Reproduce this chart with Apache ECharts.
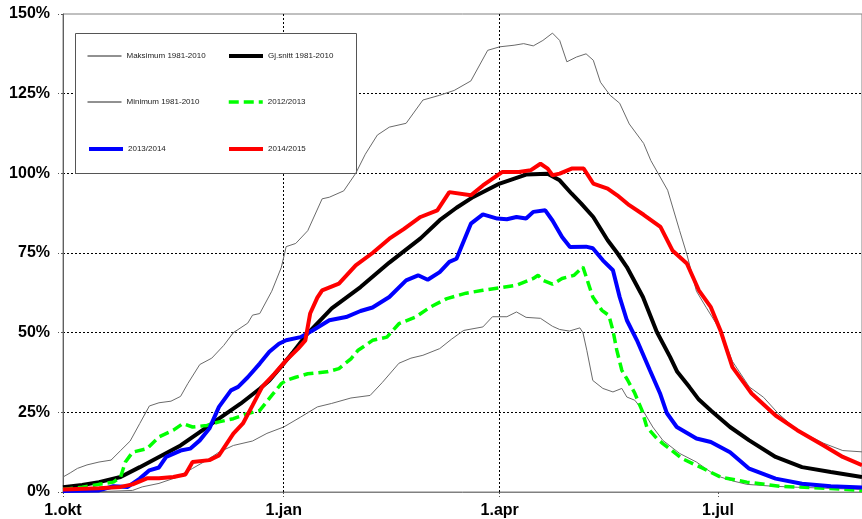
<!DOCTYPE html>
<html>
<head>
<meta charset="utf-8">
<script src="https://cdn.jsdelivr.net/npm/echarts@6/dist/echarts.min.js"></script>
<style>
html,body{margin:0;padding:0;background:#fff;}
#chart{width:862px;height:519px;}
</style>
</head>
<body>
<div id="chart"></div>
<script>
// x values are days since 1 October
const tickDays = [0, 92, 182, 273];
const tickLabels = ['1.okt', '1.jan', '1.apr', '1.jul'];
const seriesNames = ['Maksimum 1981-2010', 'Minimum 1981-2010', 'Gj.snitt 1981-2010', '2012/2013', '2013/2014', '2014/2015'];

const maxData = [[0,4.7],[3,6],[6,7.4],[10,8.5],[15,9.4],[20,10],[24,13],[28,16],[32,21.5],[36,27],[40,28],[45,28.5],[49,30],[52,34],[57,40],[62,42],[67,46],[71,50],[77,53],[79,55.5],[82,56],[87,63],[91,70.5],[93,77],[97,78],[102,82],[108,92],[111,92.5],[117,94.5],[122,100],[126,106],[131,112],[136,114.5],[143,115.7],[150,123],[157,124.5],[163,126],[170,129],[177,138.6],[182,139.7],[188,140.2],[192,140.7],[196,140],[200,141.7],[204,144],[207,141.7],[210,135],[214,136.5],[218,137.5],[221,135.5],[224,128.6],[228,124.5],[232,122],[236,115.5],[242,109.4],[245,104],[252,94.7],[257,82],[260,74.6],[264,63],[268,58],[274,50.7],[279,41],[286,33],[292,29.7],[298,24.7],[306,19.4],[317,15.3],[325,13],[333,12.6]];

const minData = [[0,0],[15,0.1],[29,0.5],[33,1.6],[40,2.7],[47,4.5],[54,7.4],[60,10],[65,12.5],[71,14.6],[79,16],[85,18.4],[92,20.4],[99,23.5],[106,26.7],[112,27.8],[120,29.5],[128,30.3],[133,34.3],[140,40.4],[145,42],[150,42.9],[157,45],[162,48],[167,50.7],[175,51.8],[179,55],[185,55],[189,56.5],[193,54.8],[199,54.5],[204,52],[207,51],[211,50.5],[215.4,51.5],[216.7,50],[218.3,44.5],[220.8,35],[225,32.5],[229.2,31.4],[232.9,32.5],[235,29.8],[238.3,28.8],[241.7,25.6],[245.8,20.4],[250,16.2],[257,12.1],[264,9.4],[272,5.2],[279,3.5],[285,2.4],[296,1.8],[306,1.5],[333,0.8]];

const avgData = [[0,1.5],[8,2.2],[15,3.1],[24,4.7],[32,7.8],[40,11],[49,14.6],[57,18.8],[65,23],[74,27.7],[82,32.4],[86,35],[90,38.5],[96,44],[102,49.8],[112,57.6],[124,64.3],[136,72],[149,79.6],[157,85.3],[164,89.2],[171,92.6],[182,96.8],[193,99.6],[202,99.9],[207,97.8],[212,93.6],[216,90.5],[221,86.3],[227,79],[231,75],[235,70.6],[241.7,61.2],[247.5,50.2],[253,42.4],[256,37.7],[261,33],[265,29],[270,25.6],[278,20.4],[286,16.2],[297,11],[308,7.8],[320,6.3],[333,4.7]];

const green1213 = [[0,0.8],[8,1.5],[15,2.4],[21,3.1],[24,4.7],[26,9.4],[29,12.5],[35,13.6],[40,17.3],[46,19.4],[50,21.5],[54,20.4],[60,20.9],[65,22],[71,23],[77,24.6],[82,25.6],[87,30.3],[91,34],[93,35],[97,36],[102,37.1],[110,37.7],[115,38.7],[120,41.8],[123,44.5],[126,46],[129,47.6],[135,48.6],[140,52.8],[147,54.9],[153,58],[160,60.7],[168,62.4],[175,63.3],[182,64.1],[189,64.9],[196,67],[198,68],[200,66.4],[204,65.2],[208,67],[213,68],[216.7,70.6],[220.8,61.2],[224.6,57],[227.5,55.4],[229.2,50.7],[230.8,44.5],[232.9,38.2],[235.4,35],[238.3,31],[241.3,25.6],[243.3,20.4],[247.5,16.8],[250,15.2],[258,10.5],[267,7.3],[274,4.7],[285,3.1],[299,1.8],[320,1.1],[333,0.5]];

const blue1314 = [[0,0.3],[15,0.5],[21,1.8],[27,1.6],[32,4.2],[36,6.8],[40,7.7],[43,11],[49,13],[53,13.6],[57,16.2],[61,19.9],[65,26.7],[70,31.9],[73,33],[77,36],[82,40.3],[86,44],[90,46.5],[93,47.6],[99,48.6],[104,50.7],[111,53.9],[118,54.9],[124,56.8],[129,57.9],[136,61.2],[143,66.4],[148,68],[152,66.6],[157,69],[161,72.2],[164,73.2],[166,76.9],[170,84.2],[175,87.1],[181,85.8],[185,85.6],[189,86.3],[193,85.8],[196,87.9],[201,88.4],[204,85.2],[208,80],[211.3,76.9],[218,77],[220.8,76.5],[225,72.7],[229.2,69.6],[232,61.2],[235,53.9],[239.2,47.6],[244.6,38.2],[248.8,31],[251.7,24.7],[255.8,20.4],[264,16.8],[270,15.7],[278,12.5],[286,7.3],[297,4.2],[308,2.6],[320,1.8],[333,1.4]];

const red1415 = [[0,0.8],[15,1.2],[24,1.6],[29,2.4],[35,4.3],[40,4.3],[46,4.7],[51,5.5],[54,9.4],[61,10],[65,11.5],[71,18.3],[75,21.5],[79,27.2],[83,33],[88,37],[93,41.3],[98,45],[101,47.6],[103,56],[106,61],[108,63.3],[115,65.4],[122,71.1],[129,75],[136,79.5],[142,82.5],[149,86.3],[156,88.4],[161,94.1],[170,93.1],[175,96.2],[183,100.4],[190,100.4],[195,101],[199,103],[202,101.5],[204,99.4],[207,99.9],[212,101.5],[217,101.5],[221,96.8],[227,95.2],[231,93.1],[236,90],[242,87],[249,83.2],[254,75.8],[260,71.7],[265,63.3],[270,58],[274,50.7],[279,39.2],[285,33],[287,30.9],[297,24],[306,19.4],[317,14.6],[325,11],[333,8.4]];

const chart = echarts.init(document.getElementById('chart'), null, {renderer: 'canvas'});
const FONT = '"Liberation Sans", Arial, sans-serif';

function legendAt(name, left, cy, lw, lc) {
  const ls = {width: lw};
  if (lc) ls.color = lc;
  return {
    data: [name],
    left: left,
    top: cy - 5,
    padding: 0,
    itemWidth: 34,
    itemHeight: 10,
    selectedMode: false,
    itemStyle: {opacity: 0},
    lineStyle: ls,
    textStyle: {fontSize: 8, color: '#222', fontFamily: FONT}
  };
}

const option = {
  animation: false,
  backgroundColor: '#fff',
  grid: {left: 63, top: 14, right: 0, bottom: 27, show: true, borderColor: '#808080', borderWidth: 1},
  xAxis: {
    type: 'value', min: 0, max: 333,
    axisLine: {show: true, lineStyle: {color: '#808080'}},
    axisTick: {show: true, length: 5, customValues: tickDays, lineStyle: {color: '#555', type: [2, 2]}},
    axisLabel: {
      customValues: tickDays, margin: 11,
      fontFamily: FONT, fontSize: 16, fontWeight: 'bold', color: '#000',
      formatter: function (v) { const i = tickDays.indexOf(v); return i >= 0 ? tickLabels[i] : ''; }
    },
    splitLine: {show: true, showMinLine: false, showMaxLine: false, lineStyle: {color: '#000', type: [2, 2], width: 1}}
  },
  yAxis: {
    type: 'value', min: 0, max: 150, interval: 25,
    axisLine: {show: true, lineStyle: {color: '#606060'}},
    axisTick: {show: true, length: 5, lineStyle: {color: '#555', type: [2, 2]}},
    axisLabel: {margin: 13, fontFamily: FONT, fontSize: 16, fontWeight: 'bold', color: '#000', formatter: '{value}%'},
    splitLine: {show: true, showMinLine: false, showMaxLine: false, lineStyle: {color: '#000', type: [2, 2], width: 1}}
  },
  graphic: [{
    type: 'rect', left: 75, top: 33, z: 1,
    shape: {width: 281, height: 140},
    style: {fill: '#fff', stroke: '#555', lineWidth: 1}
  }],
  legend: [
    legendAt(seriesNames[0], 87, 57, 1, '#222'),
    legendAt(seriesNames[2], 227, 57, 4),
    legendAt(seriesNames[1], 87, 103, 1, '#222'),
    legendAt(seriesNames[3], 227, 103, 3.5),
    legendAt(seriesNames[4], 87, 150, 4),
    legendAt(seriesNames[5], 227, 150, 4)
  ],
  series: [
    {name: seriesNames[0], type: 'line', data: maxData, symbol: 'none', color: '#6a6a6a', lineStyle: {color: '#6a6a6a', width: 1}},
    {name: seriesNames[1], type: 'line', data: minData, symbol: 'none', color: '#6a6a6a', lineStyle: {color: '#6a6a6a', width: 1}},
    {name: seriesNames[2], type: 'line', data: avgData, symbol: 'none', color: '#000', lineStyle: {color: '#000', width: 4}},
    {name: seriesNames[3], type: 'line', data: green1213, symbol: 'none', color: '#00ff00', lineStyle: {color: '#00ff00', width: 3.5, type: [10, 5]}},
    {name: seriesNames[4], type: 'line', data: blue1314, symbol: 'none', color: '#0000ff', lineStyle: {color: '#0000ff', width: 4}},
    {name: seriesNames[5], type: 'line', data: red1415, symbol: 'none', color: '#ff0000', lineStyle: {color: '#ff0000', width: 4}}
  ]
};
chart.setOption(option);
</script>
</body>
</html>
